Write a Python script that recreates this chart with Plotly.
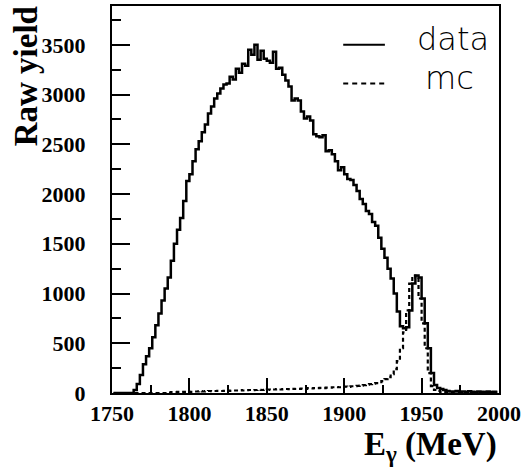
import plotly.graph_objects as go

# Bin centres (2 MeV bins, 1750-2000)
energy = [1751 + 2 * i for i in range(125)]

data_counts = [
    0, 0, 0, 0, 0, 0, 0, 30, 90, 180,          # 1751-1769
    290, 370, 450, 560, 680, 800, 930, 1050, 1160, 1330,   # 1771-1789
    1500, 1640, 1760, 1930, 2130, 2200, 2330, 2450, 2530, 2620,  # 1791-1809
    2700, 2810, 2880, 2960, 3010, 3060, 3100, 3110, 3180, 3150,  # 1811-1829
    3260, 3220, 3310, 3290, 3450, 3400, 3500, 3350, 3440, 3360,  # 1831-1849
    3340, 3320, 3430, 3260, 3270, 3200, 3140, 3080, 2940, 2960,  # 1851-1869
    2940, 2830, 2760, 2780, 2740, 2600, 2580, 2570, 2590, 2430,  # 1871-1889
    2440, 2400, 2330, 2240, 2270, 2200, 2150, 2140, 2090, 2030,  # 1891-1909
    1950, 1900, 1830, 1800, 1720, 1680, 1560, 1450, 1360, 1250,  # 1911-1929
    1150, 1000, 820, 670, 650, 660, 830, 1100, 1180, 1160,       # 1931-1949
    950, 700, 450, 200, 80, 50, 40, 30, 20, 15,                  # 1951-1969
    15, 20, 12, 15, 10, 18, 12, 10, 15, 12,                      # 1971-1989
    10, 14, 10, 12, 10,                                          # 1991-1999
]

mc_counts = [
    0, 0, 0, 0, 0, 0, 0, 0, 0, 0,              # 1751-1769
    0, 0, 0, 0, 0, 0, 0, 0, 5, 10,             # 1771-1789
    10, 12, 10, 12, 15, 12, 15, 15, 18, 15,    # 1791-1809
    18, 20, 18, 20, 22, 20, 22, 25, 22, 25,    # 1811-1829
    25, 28, 25, 28, 30, 28, 30, 32, 30, 32,    # 1831-1849
    35, 32, 35, 38, 35, 38, 40, 38, 42, 40,    # 1851-1869
    42, 45, 42, 48, 45, 50, 48, 52, 50, 55,    # 1871-1889
    55, 58, 60, 58, 62, 65, 62, 68, 70, 72,    # 1891-1909
    75, 80, 85, 90, 95, 100, 110, 120, 140, 160,  # 1911-1929
    190, 240, 320, 450, 610, 830, 1100, 1180, 1160, 950,  # 1931-1949
    700, 450, 200, 70, 30, 20, 12, 8, 6, 5,    # 1951-1969
    4, 3, 3, 2, 2, 2, 1, 1, 1, 1,              # 1971-1989
    1, 1, 0, 0, 0,                             # 1991-1999
]

x_tickvals = [1750, 1800, 1850, 1900, 1950, 2000]
y_tickvals = [0, 500, 1000, 1500, 2000, 2500, 3000, 3500]

fig = go.Figure()
fig.add_trace(go.Scatter(
    x=energy, y=mc_counts, mode="lines", line_shape="hvh",
    line=dict(color="black", width=2.2, dash="4px,3px"), name="mc",
    showlegend=False))
fig.add_trace(go.Scatter(
    x=energy, y=data_counts, mode="lines", line_shape="hvh",
    line=dict(color="black", width=2.5), name="data", showlegend=False))

tickfont = dict(family="Liberation Serif", size=22, color="black", weight="bold")

fig.update_xaxes(
    range=[1750, 2000], tickvals=x_tickvals, ticks="inside", ticklen=15,
    tickwidth=2, tickcolor="black", showline=True, linewidth=2, linecolor="black",
    mirror=True, showgrid=False, zeroline=False, tickfont=tickfont,
    minor=dict(ticks="inside", dtick=25, ticklen=8, tickwidth=2, tickcolor="black", showgrid=False),
    ticklabelstandoff=0)
fig.update_yaxes(
    range=[0, 3890], tickvals=y_tickvals, ticks="inside", ticklen=18,
    tickwidth=2, tickcolor="black", showline=True, linewidth=2, linecolor="black",
    mirror=True, showgrid=False, zeroline=False, tickfont=tickfont,
    minor=dict(ticks="inside", dtick=250, ticklen=9, tickwidth=2, tickcolor="black", showgrid=False),
    ticklabelstandoff=20)

legfont = dict(family="DejaVu Sans", size=32, color="black", weight=300)
fig.add_shape(type="line", xref="paper", yref="paper",
              x0=(345 - 112) / 390, x1=(387 - 112) / 390,
              y0=(393 - 43) / 389, y1=(393 - 43) / 389,
              line=dict(color="black", width=2))
fig.add_shape(type="line", xref="paper", yref="paper",
              x0=(345 - 112) / 390, x1=(387 - 112) / 390,
              y0=(393 - 82) / 389, y1=(393 - 82) / 389,
              line=dict(color="black", width=2, dash="5px,4px"))
fig.add_annotation(text="data", xref="paper", yref="paper", showarrow=False,
                   x=(417 - 112) / 390, y=(393 - 37) / 389, xanchor="left",
                   yanchor="middle", font=legfont)
fig.add_annotation(text="mc", xref="paper", yref="paper", showarrow=False,
                   x=(425 - 112) / 390, y=(393 - 76) / 389, xanchor="left",
                   yanchor="middle", font=legfont)

titlefont = dict(family="Liberation Serif", size=33, color="black", weight="bold")
fig.add_annotation(text="Raw yield", xref="paper", yref="paper", showarrow=False,
                   x=(25 - 112) / 390, y=(393 - 75) / 389, textangle=-90,
                   xanchor="center", yanchor="middle", font=titlefont)
fig.add_annotation(text="E<sub>γ</sub> (MeV)", xref="paper", yref="paper", showarrow=False,
                   x=(502 - 112) / 390, y=(393 - 447) / 389,
                   xanchor="right", yanchor="middle", font=titlefont)

fig.update_layout(
    width=525, height=476, margin=dict(l=112, r=23, t=4, b=83),
    paper_bgcolor="white", plot_bgcolor="white", showlegend=False)

fig.write_html("out.html", config={"displayModeBar": False},
               post_script="document.body.style.margin='0';")
